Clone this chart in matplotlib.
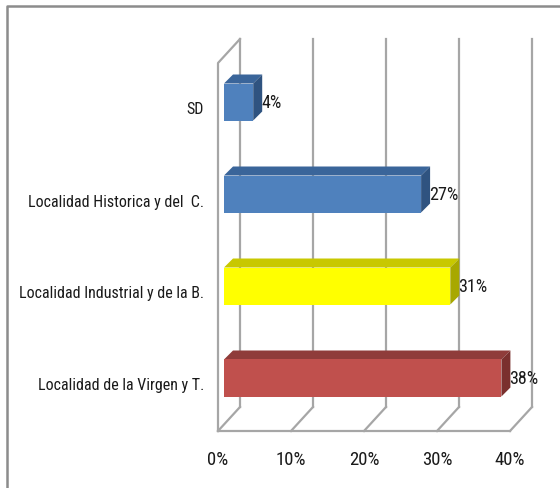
import matplotlib
matplotlib.use("Agg")
import matplotlib.pyplot as plt
from matplotlib.patches import Polygon

categories = ["SD", "Localidad Historica y del  C.", "Localidad Industrial y de la B.", "Localidad de la Virgen y T."]
values = [4, 27, 31, 38]
tick_values = [0, 10, 20, 30, 40]
tick_labels = ["0%", "10%", "20%", "30%", "40%"]
front_colors = ["#4F81BD", "#4F81BD", "#FFFF00", "#C0504D"]
top_colors = ["#3A659A", "#3A659A", "#C8C800", "#8F3C3A"]
side_colors = ["#2F5380", "#2F5380", "#A8A800", "#7A302E"]

W, H = 560, 489
PX_PER_PCT = 7.3
PX_PER_CAT = 92.0
CY0 = 103.0
GRID = "#A6A6A6"
TXT = "#1A1A1A"
FONT = ["Roboto Condensed", "Lato"]
FS_CAT = 11.5
FS_VAL = 13
FS_TICK = 13.5

fig = plt.figure(figsize=(W / 100, H / 100), dpi=100)
ax = fig.add_axes([0, 0, 1, 1])
# data x = percent, data y = category index (0 at top)
ax.set_xlim(-218 / PX_PER_PCT, (W - 218) / PX_PER_PCT)
ax.set_ylim((H - CY0) / PX_PER_CAT, -CY0 / PX_PER_CAT)
ax.axis("off")

dx = lambda px: px / PX_PER_PCT
dy = lambda px: px / PX_PER_CAT
floor = (432 - CY0) / PX_PER_CAT
ceil_front = (64 - CY0) / PX_PER_CAT
depth_x, depth_y = dx(22), dy(24)

# figure frame
fig.add_artist(plt.Line2D([7 / W, 7 / W, 1], [0, 1 - 7 / H, 1 - 7 / H], color="#8C8C8C", lw=1.8))

# gridlines: back wall verticals and floor
for t in tick_values:
    ax.plot([t + depth_x, t + depth_x], [ceil_front - depth_y, floor - depth_y], color=GRID, lw=1.6, zorder=1)
    ax.plot([t, t + depth_x], [floor, floor - depth_y], color=GRID, lw=1.6, zorder=1)
ax.plot([0, 0, depth_x], [floor, ceil_front, ceil_front - depth_y], color=GRID, lw=1.6, zorder=1)
ax.plot([tick_values[0], tick_values[-1]], [floor, floor], color=GRID, lw=1.6, zorder=1)

# bars
half = dy(18.5)
bar_dx, bar_dy = dx(9), dy(9)
x0 = dx(6)
for i, (v, f, tc, sc) in enumerate(zip(values, front_colors, top_colors, side_colors)):
    x1 = x0 + v
    t, b = i - half, i + half
    ax.add_patch(Polygon([(x0, t), (x1, t), (x1 + bar_dx, t - bar_dy), (x0 + bar_dx, t - bar_dy)], fc=tc, ec="none", zorder=3))
    ax.add_patch(Polygon([(x1, t), (x1 + bar_dx, t - bar_dy), (x1 + bar_dx, b - bar_dy), (x1, b)], fc=sc, ec="none", zorder=3))
    ax.add_patch(Polygon([(x0, t), (x1, t), (x1, b), (x0, b)], fc=f, ec="none", zorder=4))
    ax.text(x1 + dx(8), i, f"{v}%", fontsize=FS_VAL, family=FONT, color=TXT, va="center", ha="left", zorder=5)
    ax.text(dx(-14), i + dy(7), categories[i], fontsize=FS_CAT, family=FONT, color=TXT, va="center", ha="right", zorder=5)

for t, lab in zip(tick_values, tick_labels):
    ax.text(t, floor + dy(28), lab, fontsize=FS_TICK, family=FONT, color=TXT, va="center", ha="center")

fig.savefig("out.png", dpi=100, facecolor="white")
